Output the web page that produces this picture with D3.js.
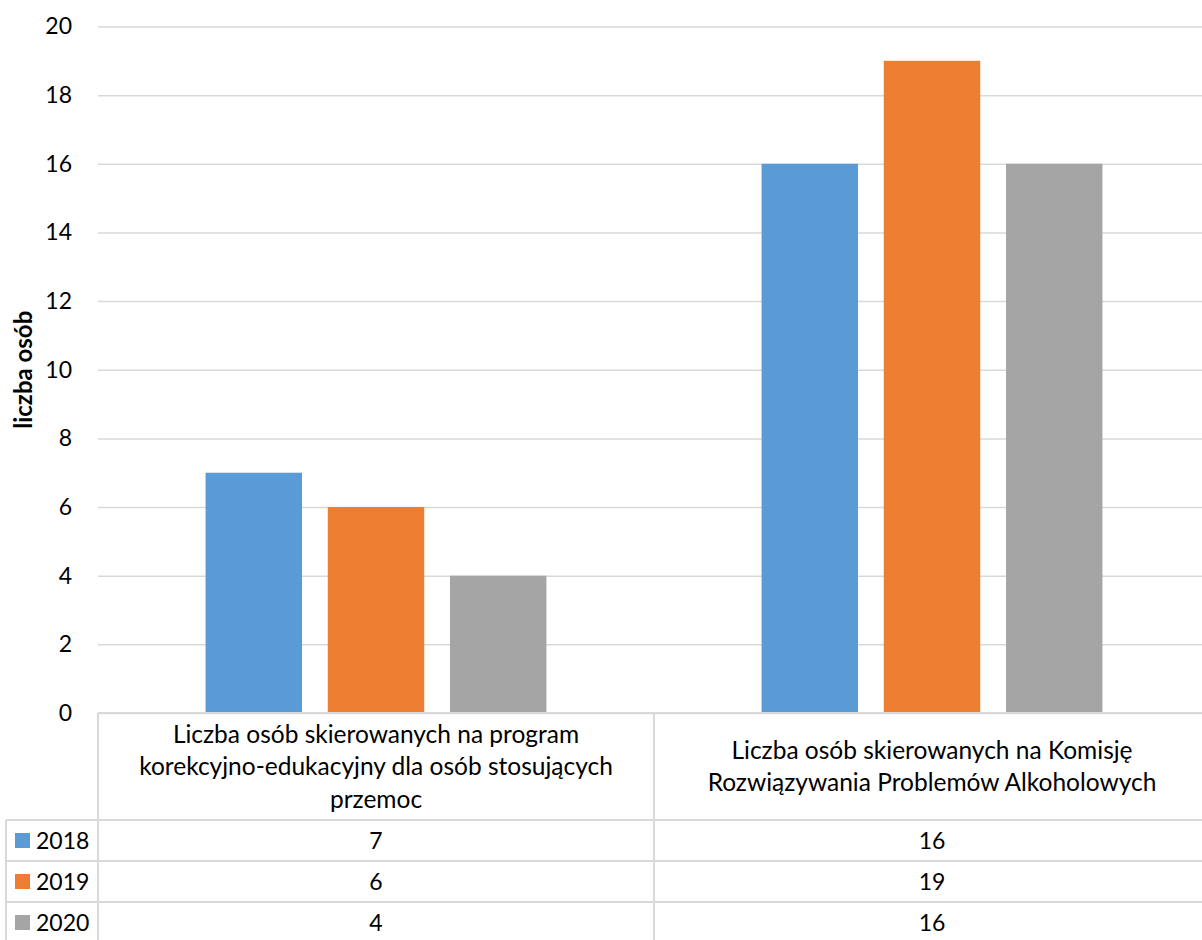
<!DOCTYPE html>
<html><head><meta charset="utf-8">
<script src="https://cdn.jsdelivr.net/npm/d3@7"></script>
<style>body{margin:0;background:#fff}svg{display:block}text{font-family:Lato,"Open Sans",sans-serif;fill:#000}</style>
</head><body>
<svg id="c" width="1202" height="940"></svg>
<script>
const categories = [
  ["Liczba osób skierowanych na program", "korekcyjno-edukacyjny dla osób stosujących", "przemoc"],
  ["Liczba osób skierowanych na Komisję", "Rozwiązywania Problemów Alkoholowych"]
];
const seriesNames = ["2018", "2019", "2020"];
const values2018 = [7, 16];
const values2019 = [6, 19];
const values2020 = [4, 16];
const seriesValues = [values2018, values2019, values2020];
const colors = ["#5b9bd5", "#ed7d31", "#a5a5a5"];
const yTicks = [0, 2, 4, 6, 8, 10, 12, 14, 16, 18, 20];
const yTitle = "liczba osób";

(function () {
const svg = d3.select("#c");
const pL = 98, pR = 1210, pT = 26.5, pB = 713;
const fs = 23;
const x = d3.scaleBand().domain(d3.range(categories.length)).range([pL, pR]);
const xs = d3.scaleBand().domain(d3.range(seriesNames.length)).range([0, x.bandwidth()]).paddingInner(0.211).paddingOuter(0.88);
const y = d3.scaleLinear().domain([0, 20]).range([pB, pT]);

// gridlines
const yAxis = d3.axisLeft(y).tickValues(yTicks).tickSize(-(pR - pL)).tickPadding(26);
const g = svg.append("g").attr("transform", `translate(${pL},0)`).call(yAxis);
g.select(".domain").remove();
g.selectAll(".tick line").attr("stroke", "#d9d9d9").attr("stroke-width", 1.5);
g.selectAll(".tick text").attr("font-size", fs).attr("font-family", "Lato").attr("fill", "#000");

// bars
seriesNames.forEach((s, si) => {
  svg.append("g").selectAll("rect").data(seriesValues[si]).join("rect")
    .attr("x", (d, i) => x(i) + xs(si))
    .attr("width", xs.bandwidth())
    .attr("y", d => y(d))
    .attr("height", d => y(0) - y(d))
    .attr("fill", colors[si]);
});

// y title
svg.append("text").attr("transform", `translate(32,${(pT + pB) / 2}) rotate(-90)`)
  .attr("text-anchor", "middle").attr("font-weight", "bold").attr("font-size", 24).text(yTitle);

// data table
const rowTop = 820, rowH = 41;
const lc = "#d9d9d9";
const lines = svg.append("g").attr("stroke", lc).attr("stroke-width", 2);
lines.append("line").attr("x1", pL).attr("x2", pR).attr("y1", pB).attr("y2", pB);
for (let r = 0; r <= seriesNames.length; r++) {
  lines.append("line").attr("x1", 6).attr("x2", pR).attr("y1", rowTop + r * rowH).attr("y2", rowTop + r * rowH);
}
lines.append("line").attr("x1", 6).attr("x2", 6).attr("y1", rowTop).attr("y2", 940);
categories.forEach((c, i) => {
  lines.append("line").attr("x1", x(i)).attr("x2", x(i)).attr("y1", pB).attr("y2", 940);
});
lines.append("line").attr("x1", pR).attr("x2", pR).attr("y1", pB).attr("y2", 940);

// header text
const lh = 32.5;
categories.forEach((c, i) => {
  const cx = x(i) + x.bandwidth() / 2;
  const mid = (pB + rowTop) / 2;
  c.forEach((t, li) => {
    svg.append("text").attr("x", cx).attr("y", mid + (li - (c.length - 1) / 2) * lh)
      .attr("dy", "0.35em").attr("text-anchor", "middle").attr("font-size", 24.5).text(t);
  });
});
// rows
seriesNames.forEach((s, si) => {
  const cy = rowTop + si * rowH + rowH / 2;
  svg.append("rect").attr("x", 15).attr("y", cy - 7.5).attr("width", 15).attr("height", 15).attr("fill", colors[si]);
  svg.append("text").attr("x", 36).attr("y", cy).attr("dy", "0.36em").attr("font-size", fs).text(s);
  seriesValues[si].forEach((v, i) => {
    svg.append("text").attr("x", x(i) + x.bandwidth() / 2).attr("y", cy).attr("dy", "0.36em")
      .attr("text-anchor", "middle").attr("font-size", fs).text(v);
  });
});
})();
</script>
</body></html>
